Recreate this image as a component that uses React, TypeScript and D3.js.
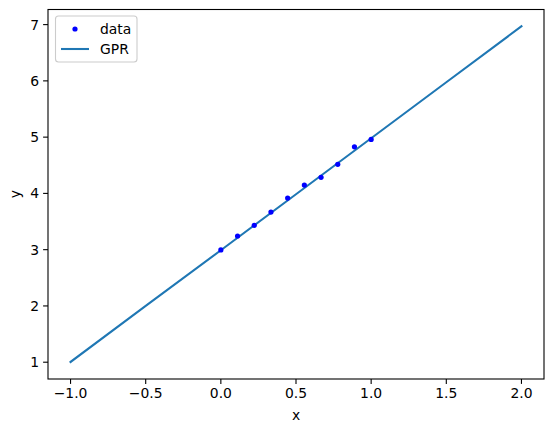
import React from "react";
import * as d3 from "d3";

const dataX = [0, 1 / 9, 2 / 9, 3 / 9, 4 / 9, 5 / 9, 6 / 9, 7 / 9, 8 / 9, 1];
const dataY = [2.995, 3.243, 3.433, 3.669, 3.917, 4.148, 4.285, 4.516, 4.828, 4.96];
const gprX = [-1, -0.5, 0, 0.5, 1, 1.5, 2];
const gprY = [1.005, 2.0, 2.99, 3.985, 4.98, 5.975, 6.97];
const xTicks = [-1.0, -0.5, 0.0, 0.5, 1.0, 1.5, 2.0];
const yTicks = [1, 2, 3, 4, 5, 6, 7];

const W = 554;
const H = 432;
const L = 48;
const R = 544;
const T = 9.5;
const B = 379;
const FONT = "DejaVu Sans, sans-serif";
const FS = 13.9;

export default function App() {
  const x = d3.scaleLinear().domain([-1.15, 2.15]).range([L, R]);
  const y = d3.scaleLinear().domain([0.7015, 7.2685]).range([B, T]);
  const line = d3
    .line<number>()
    .x((_, i) => x(gprX[i]))
    .y((d) => y(d));
  const fmt = (v: number) => v.toFixed(1).replace("-", "\u2212");

  return (
    <svg
      width={W}
      height={H}
      style={{ position: "absolute", left: 0, top: 0, background: "#fff" }}
      fontFamily={FONT}
    >
      <rect x={0} y={0} width={W} height={H} fill="#fff" />
      <path d={line(gprY) || ""} fill="none" stroke="#1f77b4" strokeWidth={2.08} strokeLinecap="square" />
      {dataY.map((v, i) => (
        <circle key={i} cx={x(dataX[i])} cy={y(v)} r={2.6} fill="#0000ff" />
      ))}
      <rect x={L} y={T} width={R - L} height={B - T} fill="none" stroke="#000" strokeWidth={1.1} />
      {xTicks.map((t) => (
        <g key={t}>
          <line x1={x(t)} x2={x(t)} y1={B} y2={B + 4.9} stroke="#000" strokeWidth={1.1} />
          <text x={x(t)} y={B + 19} textAnchor="middle" fontSize={FS} fill="#000">
            {fmt(t)}
          </text>
        </g>
      ))}
      {yTicks.map((t) => (
        <g key={t}>
          <line x1={L - 4.9} x2={L} y1={y(t)} y2={y(t)} stroke="#000" strokeWidth={1.1} />
          <text x={L - 9} y={y(t) + 5} textAnchor="end" fontSize={FS} fill="#000">
            {t}
          </text>
        </g>
      ))}
      <text x={(L + R) / 2} y={420} textAnchor="middle" fontSize={FS} fill="#000">
        x
      </text>
      <text
        transform={`translate(20,${(T + B) / 2}) rotate(-90)`}
        textAnchor="middle"
        fontSize={FS}
        fill="#000"
      >
        y
      </text>
      <g>
        <rect x={55.5} y={16} width={81.5} height={46} rx={3} fill="#fff" fillOpacity={0.8} stroke="#cccccc" strokeWidth={1.1} />
        <circle cx={75} cy={29} r={2.6} fill="#0000ff" />
        <text x={100} y={34} fontSize={FS} fill="#000">
          data
        </text>
        <line x1={61} x2={89} y1={49} y2={49} stroke="#1f77b4" strokeWidth={2.08} />
        <text x={100} y={54} fontSize={FS} fill="#000">
          GPR
        </text>
      </g>
    </svg>
  );
}
